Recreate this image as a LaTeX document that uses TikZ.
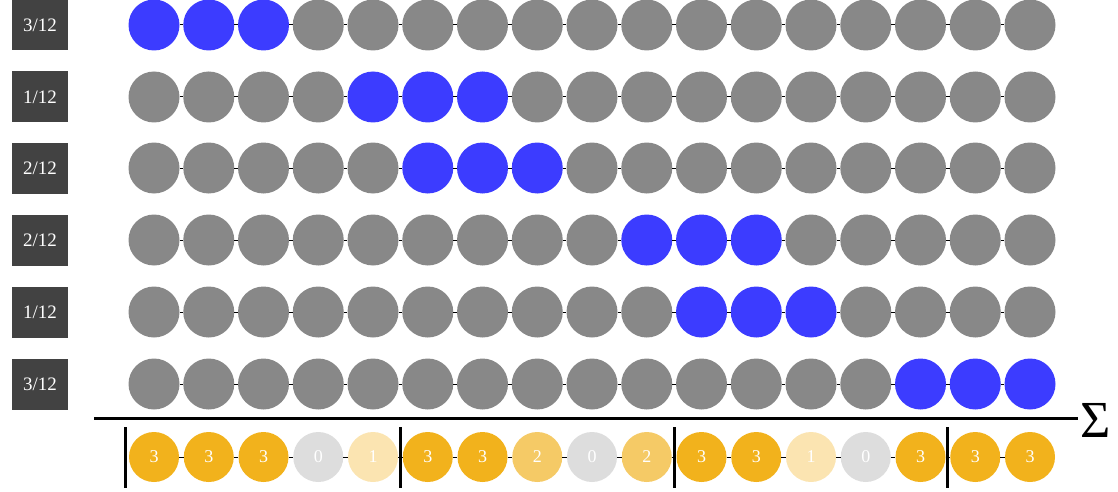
\documentclass[tikz,border=0pt]{standalone}
\usepackage{fontspec}
\setmainfont{Liberation Serif}
\usetikzlibrary{calc}
\definecolor{blu}{HTML}{3C3CFF}
\definecolor{gry}{HTML}{888888}
\definecolor{lab}{HTML}{424242}
\definecolor{o3}{HTML}{F2B21C}
\definecolor{o2}{HTML}{F5CA66}
\definecolor{o1}{HTML}{FBE4B1}
\definecolor{o0}{HTML}{DDDDDD}
\begin{document}
\begin{tikzpicture}[x=1pt,y=-1pt,
 dot/.style={circle,minimum size=51pt,inner sep=0pt,fill=gry},
 labelbox/.style={fill=lab,minimum width=56pt,minimum height=51pt,inner sep=0pt,text=white,font=\fontsize{19}{19}\selectfont},
 sumdot/.style={circle,minimum size=50pt,inner sep=0pt,text=white,font=\fontsize{18}{18}\selectfont},
 link/.style={draw=black,line width=1pt},
 bar/.style={line width=3pt},
]
\useasboundingbox (0,0) rectangle (1118,492);
\foreach \r/\y/\lab/\s in {1/25/3/1, 2/97/1/5, 3/168/2/6, 4/240/2/10, 5/312/1/11, 6/384/3/15} {
  \node[labelbox] (L\r) at (40,\y) {\lab/12};
  \pgfmathtruncatemacro\e{\s+2}
  \foreach \i in {1,...,17} {
    \ifnum\i<\s \def\col{gry}\else\ifnum\i>\e \def\col{gry}\else\def\col{blu}\fi\fi
    \node[dot,fill=\col] (r\r-\i) at ({154+(\i-1)*54.75},\y) {};
  }
  \foreach \i [evaluate=\i as \j using int(\i+1)] in {1,...,16}
    \draw[link] (r\r-\i) -- (r\r-\j);
}
\foreach \v [count=\i] in {3,3,3,0,1,3,3,2,0,2,3,3,1,0,3,3,3}
  \node[sumdot,fill=o\v] (s\i) at ({154+(\i-1)*54.75},457) {\v};
\foreach \i [evaluate=\i as \j using int(\i+1)] in {1,...,16}
  \draw[link] (s\i) -- (s\j);
\draw[bar] ($(s1.west)+(-3,-30)$) -- ++(0,61);
\foreach \a/\b in {5/6,10/11,15/16}
  \draw[bar] ($(s\a.east)!0.5!(s\b.west)+(0,-30)$) -- ++(0,61);
\node[inner sep=0pt,font=\fontsize{52}{52}\selectfont] (sig) at (1096,420.5) {Σ};
\coordinate (hl) at (94,418);
\coordinate (hr) at (1078,418);
\draw[line width=3pt] (hl) -- (hr);
\end{tikzpicture}
\end{document}
